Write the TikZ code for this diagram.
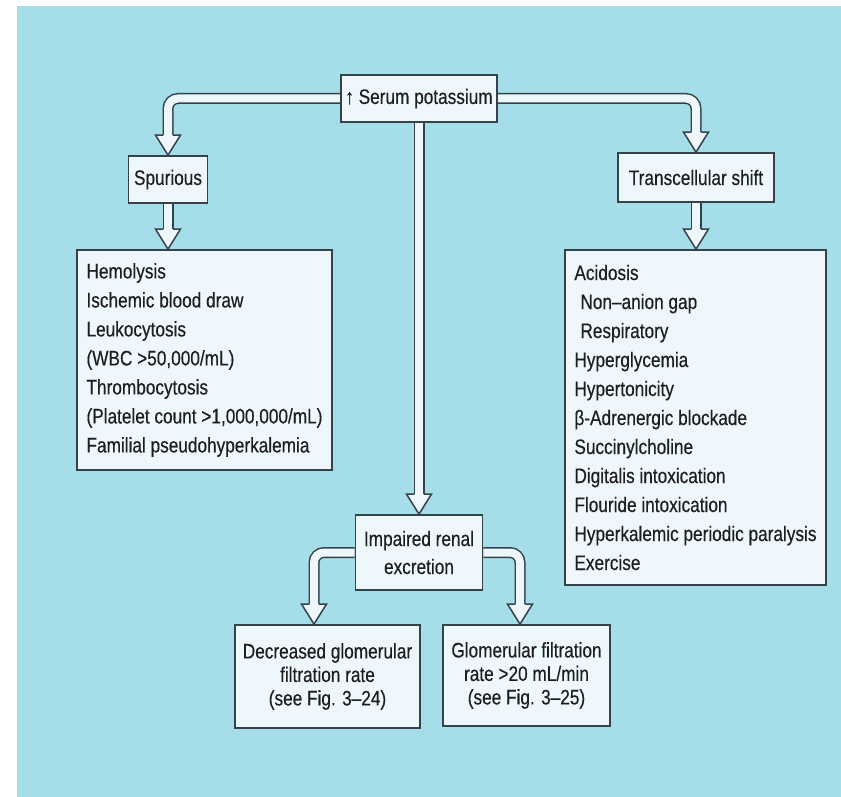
\documentclass[tikz,border=0pt]{standalone}
\usepackage{fontspec}
\setmainfont{Liberation Sans}[FakeStretch=0.82,FakeBold=0.35]
\usetikzlibrary{calc}
\definecolor{bgblue}{HTML}{A5DEE9}
\definecolor{boxfill}{HTML}{EEF7FB}
\definecolor{edge}{HTML}{34424A}
\definecolor{ink}{HTML}{1E1E1E}
\pgfdeclarelayer{bg}
\pgfdeclarelayer{arr}
\pgfsetlayers{bg,arr,main}
\newcommand\headdown[1]{%
  \fill[boxfill] ($(#1)+(-12.5,-20)$) -- (#1) -- ($(#1)+(12.5,-20)$) -- cycle;
  \draw[edge, line width=1.5pt, line join=miter] ($(#1)+(-4.75,-20)$) -- ($(#1)+(-12.5,-20)$) -- (#1) -- ($(#1)+(12.5,-20)$) -- ($(#1)+(4.75,-20)$);}
\tikzset{
  box/.style={draw=edge, fill=boxfill, line width=1.8pt, text=ink, inner sep=0pt, font=\fontsize{21}{29}\selectfont},
  shaft/.style={draw=edge, line width=1.5pt, double=boxfill, double distance=8pt, rounded corners=10pt},
}
\begin{document}
\begin{tikzpicture}[x=1pt,y=-1pt]
\useasboundingbox (0,0) rectangle (841,797);
\begin{pgfonlayer}{bg}
\fill[white] (0,0) rectangle (841,797);
\fill[bgblue] (17,6) rectangle (841,797);
\end{pgfonlayer}

\node[box, minimum width=156pt, minimum height=47pt] (top) at (419,98.5) {↑ Serum potassium};
\node[box, minimum width=79pt, minimum height=47pt] (spur) at (168,179.5) {Spurious};
\node[box, minimum width=156pt, minimum height=49pt] (trans) at (696,177.5) {Transcellular shift};
\node[box, minimum width=255pt, minimum height=220pt, align=left] (hemo) at (204.5,360) {Hemolysis\\Ischemic blood draw\\Leukocytosis\\(WBC >50,000/mL)\\Thrombocytosis\\(Platelet count >1,000,000/mL)\\Familial pseudohyperkalemia};
\node[box, minimum width=261pt, minimum height=335pt, align=left] (acid) at (695.5,417.5) {Acidosis\\\hspace*{6pt}Non–anion gap\\\hspace*{6pt}Respiratory\\Hyperglycemia\\Hypertonicity\\β-Adrenergic blockade\\Succinylcholine\\Digitalis intoxication\\Flouride intoxication\\Hyperkalemic periodic paralysis\\Exercise};
\node[box, minimum width=127pt, minimum height=75pt, align=center, font=\fontsize{21}{28}\selectfont] (renal) at (419,552.5) {Impaired renal\\excretion};
\node[box, minimum width=185pt, minimum height=103pt, align=center, font=\fontsize{21}{23.5}\selectfont] (dec) at (327.5,676.5) {Decreased glomerular\\filtration rate\\(see Fig. 3–24)};
\node[box, minimum width=167pt, minimum height=101pt, align=center, font=\fontsize{21}{23.5}\selectfont] (glom) at (526.5,675.5) {Glomerular filtration\\rate >20 mL/min\\(see Fig. 3–25)};

\coordinate (dx) at (314,0);
\coordinate (gx) at (520,0);

\begin{pgfonlayer}{arr}
\draw[shaft] (top.west) -| ($(spur.north)+(0,-19)$);
\headdown{spur.north}
\draw[shaft] (top.east) -| ($(trans.north)+(0,-19)$);
\headdown{trans.north}
\draw[shaft] (spur.south) -- ($(hemo.north -| spur.south)+(0,-19)$);
\headdown{hemo.north -| spur.south}
\draw[shaft] (trans.south) -- ($(acid.north -| trans.south)+(0,-19)$);
\headdown{acid.north -| trans.south}
\draw[shaft] (top.south) -- ($(renal.north)+(0,-19)$);
\headdown{renal.north}
\draw[shaft] (renal.west) -| ($(dec.north -| dx)+(0,-19)$);
\headdown{dec.north -| dx}
\draw[shaft] (renal.east) -| ($(glom.north -| gx)+(0,-19)$);
\headdown{glom.north -| gx}
\end{pgfonlayer}
\end{tikzpicture}
\end{document}
